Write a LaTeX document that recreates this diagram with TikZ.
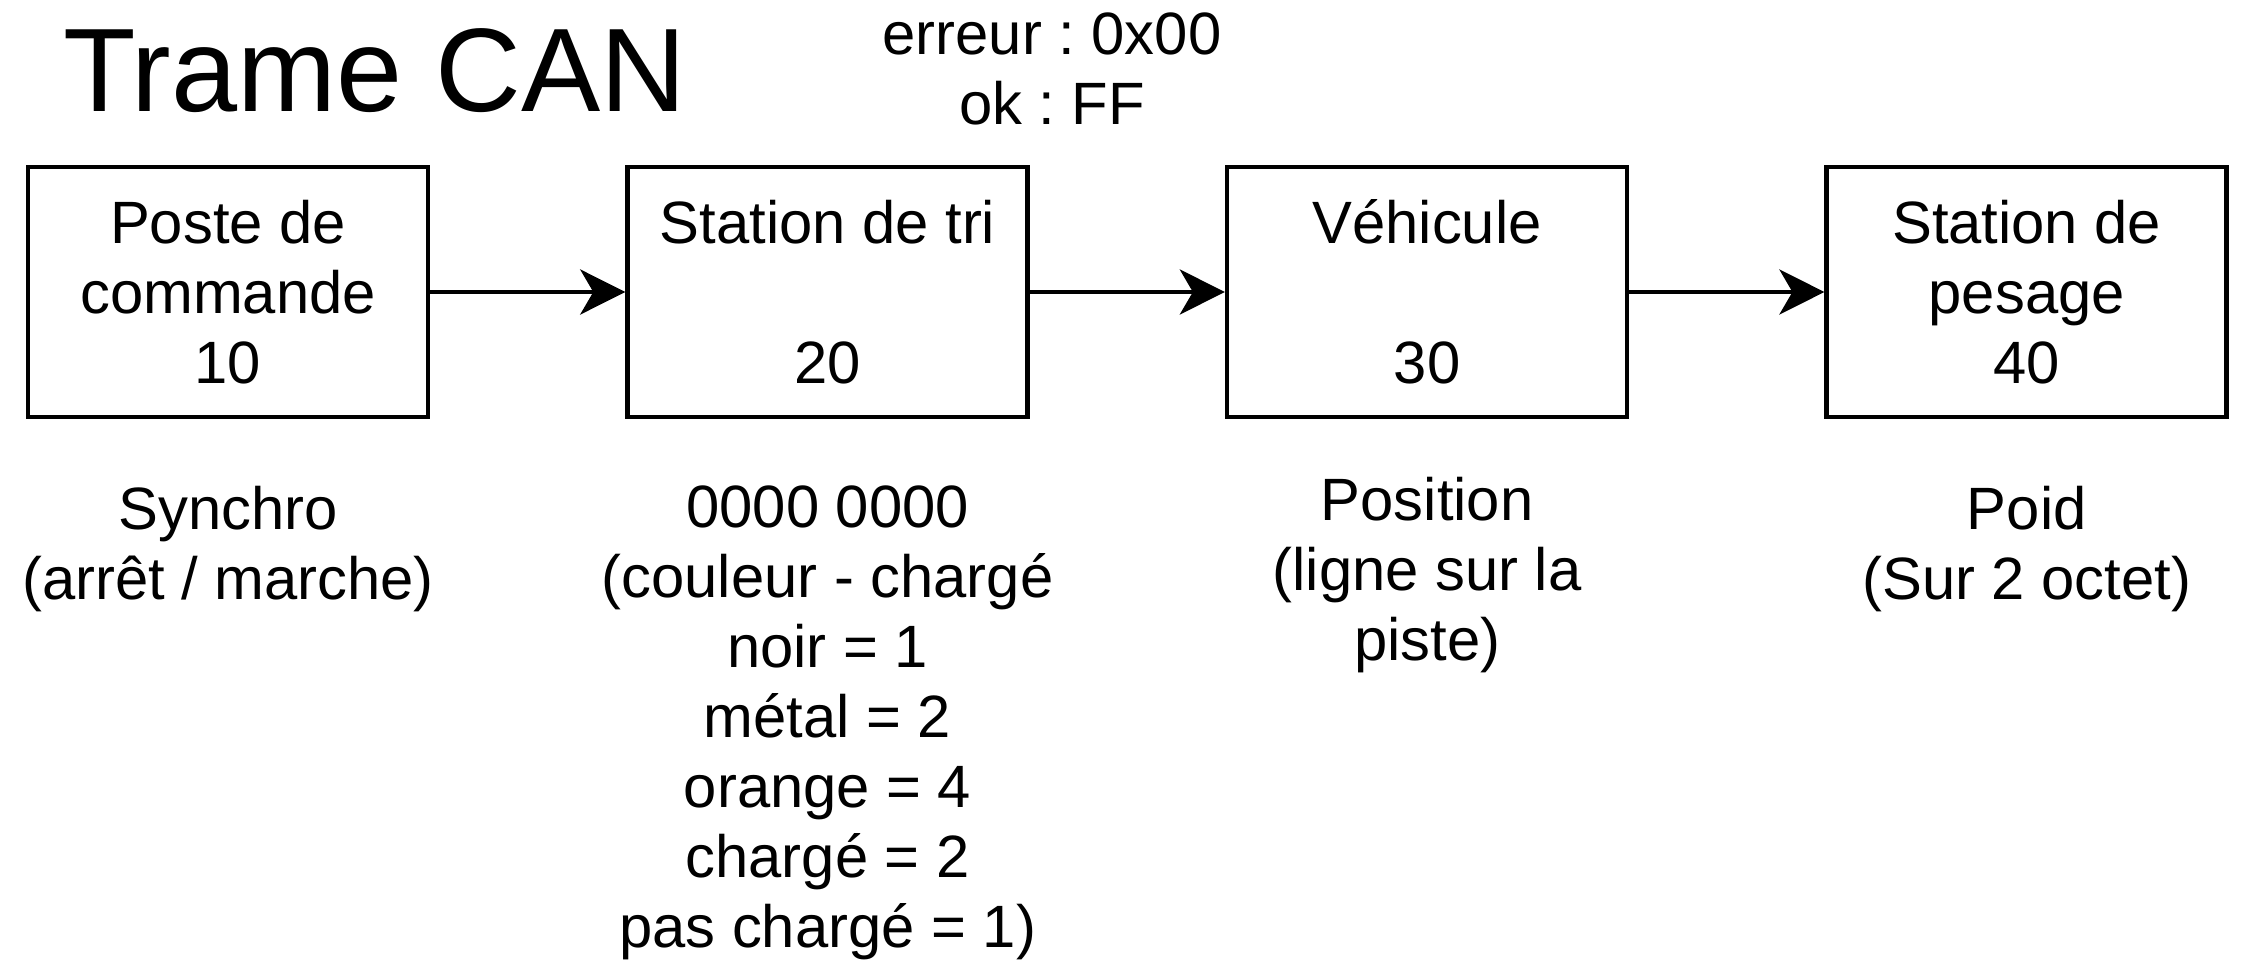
\documentclass[tikz,border=0pt]{standalone}
\usepackage{fontspec}
\setmainfont{Liberation Sans}
\usepackage{tikz}
\usetikzlibrary{arrows.meta, positioning, calc}
\frenchspacing

\begin{document}
\begin{tikzpicture}[
        node distance=1.95cm,
        txt/.style={font=\fontsize{17pt}{19.9pt}\selectfont},
        station/.style={rectangle, draw, line width=1.3pt, minimum width=4cm, minimum height=2.5cm, align=center, inner sep=0pt, txt},
        note/.style={align=center, inner sep=0pt, txt},
        flow/.style={-{Stealth[length=0.45cm, width=0.45cm, inset=0.13cm]}, line width=1.3pt}
    ]
        \useasboundingbox (0,0) rectangle (22.6,-9.7);

        % Title and status codes
        \node[anchor=base, inner sep=0pt, font=\fontsize{33.8pt}{40pt}\selectfont] (title) at (3.75,-1.11) {Trame CAN};
        \node[note, anchor=north] (codes) at (10.52,-0.12) {erreur : 0x00\\ok : FF};

        % CAN nodes
        \node[station] (poste) at (2.28,-2.92) {Poste de\\commande\\10};
        \node[station, right=of poste] (tri) {Station de tri\\~\\20};
        \node[station, right=of tri] (vehicule) {Véhicule\\~\\30};
        \node[station, right=of vehicule] (pesage) {Station de\\pesage\\40};

        % Frame flow
        \draw[flow] (poste) -- (tri);
        \draw[flow] (tri) -- (vehicule);
        \draw[flow] (vehicule) -- (pesage);

        % Data carried
        \node[note, below=0.66cm of poste] (synchro) {Synchro\\(arrêt / marche)};
        \node[note, below=0.66cm of tri] (couleur) {0000 0000\\(couleur - chargé\\noir = 1\\métal = 2\\orange = 4\\chargé = 2\\pas chargé = 1)};
        \node[note, below=0.57cm of vehicule] (position) {Position\\(ligne sur la\\piste)};
        \node[note, below=0.66cm of pesage] (poids) {Poid\\(Sur 2 octet)};

    \end{tikzpicture}
\end{document}
